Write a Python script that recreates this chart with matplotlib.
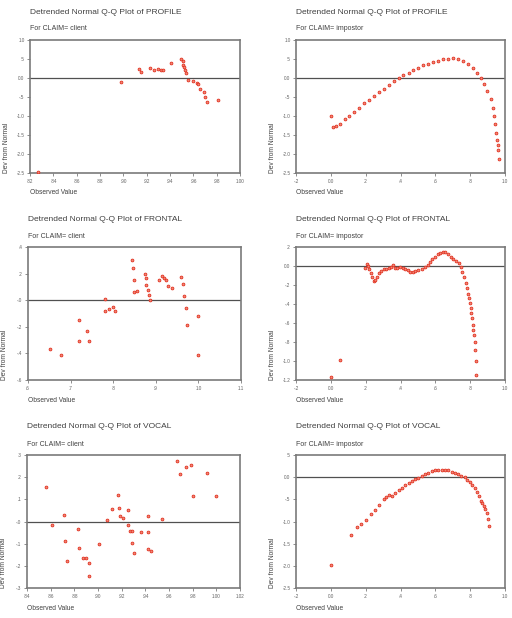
import matplotlib
matplotlib.use("Agg")
import matplotlib.pyplot as plt

profile_client_x = [0.827, 0.898, 0.913, 0.915, 0.923, 0.926, 0.930, 0.932, 0.934, 0.941,
                    0.949, 0.951, 0.951, 0.952, 0.953, 0.954, 0.955, 0.960, 0.963, 0.964,
                    0.966, 0.969, 0.970, 0.972, 0.981]
profile_client_y = [-2.47, -0.10, 0.24, 0.16, 0.27, 0.21, 0.23, 0.22, 0.21, 0.39,
                    0.51, 0.44, 0.34, 0.29, 0.22, 0.14, -0.04, -0.09, -0.14, -0.17,
                    -0.29, -0.37, -0.51, -0.64, -0.58]

profile_impostor_x = [0.0, 0.013, 0.028, 0.053, 0.082, 0.104, 0.133, 0.161, 0.19, 0.218,
                      0.247, 0.275, 0.304, 0.332, 0.36, 0.389, 0.417, 0.446, 0.474, 0.503,
                      0.531, 0.56, 0.588, 0.617, 0.645, 0.674, 0.702, 0.73, 0.759, 0.787,
                      0.816, 0.84, 0.86, 0.879, 0.898, 0.917, 0.93, 0.939, 0.945, 0.951,
                      0.954, 0.958, 0.962, 0.967]
profile_impostor_y = [-1.0, -1.29, -1.27, -1.20, -1.07, -1.0, -0.89, -0.78, -0.67, -0.57,
                      -0.48, -0.375, -0.29, -0.18, -0.09, 0.0, 0.07, 0.14, 0.2, 0.27,
                      0.34, 0.38, 0.43, 0.46, 0.5, 0.5, 0.52, 0.5, 0.45, 0.375,
                      0.27, 0.13, 0.0, -0.15, -0.33, -0.55, -0.78, -1.0, -1.22, -1.45,
                      -1.63, -1.76, -1.89, -2.14]

frontal_client_x = [0.651, 0.677, 0.719, 0.738, 0.719, 0.743, 0.780, 0.781, 0.791, 0.799,
                    0.805, 0.845, 0.846, 0.848, 0.850, 0.855, 0.874, 0.877, 0.878, 0.881,
                    0.884, 0.886, 0.907, 0.915, 0.920, 0.925, 0.929, 0.939, 0.959, 0.963,
                    0.966, 0.971, 0.973, 0.998, 1.000]
frontal_client_y = [-0.37, -0.41, -0.15, -0.23, -0.31, -0.31, 0.01, -0.08, -0.065, -0.05,
                    -0.08, 0.305, 0.24, 0.15, 0.065, 0.07, 0.20, 0.17, 0.115, 0.08,
                    0.04, 0.005, 0.155, 0.18, 0.17, 0.155, 0.105, 0.09, 0.175, 0.12,
                    0.035, -0.06, -0.19, -0.12, -0.415]

frontal_impostor_x = [0.0, 0.051, 0.195, 0.209, 0.214, 0.222, 0.23, 0.237, 0.249, 0.256,
                      0.266, 0.275, 0.29, 0.304, 0.317, 0.332, 0.345, 0.355, 0.366, 0.38,
                      0.398, 0.412, 0.427, 0.442, 0.455, 0.469, 0.484, 0.503, 0.522, 0.541,
                      0.556, 0.569, 0.583, 0.598, 0.613, 0.628, 0.643, 0.658, 0.674, 0.689,
                      0.704, 0.721, 0.734, 0.746, 0.755, 0.765, 0.774, 0.782, 0.787, 0.793,
                      0.799, 0.803, 0.806, 0.81, 0.814, 0.818, 0.822, 0.825, 0.827, 0.831,
                      0.835]
frontal_impostor_y = [-1.17, -0.99, -0.025, 0.018, 0.0, -0.03, -0.077, -0.12, -0.158, -0.147,
                      -0.112, -0.077, -0.053, -0.035, -0.032, -0.025, -0.007, 0.01, -0.025, -0.025,
                      -0.014, -0.025, -0.032, -0.046, -0.06, -0.067, -0.053, -0.042, -0.032, -0.01,
                      0.01, 0.039, 0.074, 0.098, 0.123, 0.137, 0.147, 0.144, 0.123, 0.095,
                      0.074, 0.056, 0.028, -0.007, -0.06, -0.112, -0.18, -0.235, -0.29, -0.34,
                      -0.39, -0.446, -0.498, -0.55, -0.62, -0.67, -0.73, -0.80, -0.88, -0.996,
                      -1.147]

vocal_client_x = [0.856, 0.861, 0.871, 0.872, 0.874, 0.883, 0.884, 0.887, 0.890, 0.892,
                  0.892, 0.901, 0.908, 0.912, 0.917, 0.918, 0.919, 0.921, 0.925, 0.925,
                  0.927, 0.929, 0.929, 0.930, 0.936, 0.942, 0.942, 0.942, 0.945, 0.954,
                  0.967, 0.969, 0.974, 0.979, 0.980, 0.992, 1.000]
vocal_client_y = [0.156, -0.017, 0.030, -0.089, -0.179, -0.035, -0.120, -0.165, -0.164, -0.185,
                  -0.248, -0.102, 0.005, 0.057, 0.120, 0.060, 0.026, 0.018, 0.050, -0.014,
                  -0.042, -0.044, -0.099, -0.143, -0.048, 0.026, -0.048, -0.123, -0.131, 0.011,
                  0.271, 0.215, 0.245, 0.257, 0.117, 0.218, 0.117]

vocal_impostor_x = [0.0, 0.114, 0.152, 0.175, 0.2, 0.228, 0.252, 0.275, 0.304, 0.317,
                    0.332, 0.351, 0.37, 0.389, 0.408, 0.427, 0.446, 0.465, 0.484, 0.503,
                    0.522, 0.541, 0.56, 0.579, 0.598, 0.617, 0.636, 0.655, 0.674, 0.693,
                    0.712, 0.73, 0.75, 0.768, 0.784, 0.797, 0.812, 0.825, 0.839, 0.85,
                    0.86, 0.869, 0.879, 0.886, 0.894, 0.901, 0.911]
vocal_impostor_y = [-1.99, -1.30, -1.12, -1.06, -0.96, -0.84, -0.74, -0.63, -0.5, -0.44,
                    -0.41, -0.425, -0.35, -0.28, -0.24, -0.18, -0.127, -0.09, -0.05, -0.03,
                    0.02, 0.067, 0.097, 0.134, 0.157, 0.17, 0.17, 0.164, 0.157, 0.127,
                    0.097, 0.067, 0.037, -0.007, -0.067, -0.11, -0.18, -0.25, -0.336, -0.425,
                    -0.54, -0.59, -0.65, -0.72, -0.8, -0.95, -1.1]

# === Axis ticks and their labels (SPSS style, no leading zero) ===
x_ticks_profile_client = [0.82, 0.84, 0.86, 0.88, 0.90, 0.92, 0.94, 0.96, 0.98, 1.00]
x_labels_profile_client = [".82", ".84", ".86", ".88", ".90", ".92", ".94", ".96", ".98", "1.00"]
x_ticks_unit = [-0.2, 0.0, 0.2, 0.4, 0.6, 0.8, 1.0]
x_labels_unit = ["-.2", "0.0", ".2", ".4", ".6", ".8", "1.0"]
x_ticks_frontal_client = [0.6, 0.7, 0.8, 0.9, 1.0, 1.1]
x_labels_frontal_client = [".6", ".7", ".8", ".9", "1.0", "1.1"]
x_ticks_vocal_client = [0.84, 0.86, 0.88, 0.90, 0.92, 0.94, 0.96, 0.98, 1.00, 1.02]
x_labels_vocal_client = [".84", ".86", ".88", ".90", ".92", ".94", ".96", ".98", "1.00", "1.02"]

y_ticks_profile = [-2.5, -2.0, -1.5, -1.0, -0.5, 0.0, 0.5, 1.0]
y_labels_profile = ["-2.5", "-2.0", "-1.5", "-1.0", "-.5", "0.0", ".5", "1.0"]
y_ticks_frontal_client = [-0.6, -0.4, -0.2, 0.0, 0.2, 0.4]
y_labels_frontal_client = ["-.6", "-.4", "-.2", "-.0", ".2", ".4"]
y_ticks_frontal_impostor = [-1.2, -1.0, -0.8, -0.6, -0.4, -0.2, 0.0, 0.2]
y_labels_frontal_impostor = ["-1.2", "-1.0", "-.8", "-.6", "-.4", "-.2", "0.0", ".2"]
y_ticks_vocal_client = [-0.3, -0.2, -0.1, 0.0, 0.1, 0.2, 0.3]
y_labels_vocal_client = ["-.3", "-.2", "-.1", "-.0", ".1", ".2", ".3"]
y_ticks_vocal_impostor = [-2.5, -2.0, -1.5, -1.0, -0.5, 0.0, 0.5]
y_labels_vocal_impostor = ["-2.5", "-2.0", "-1.5", "-1.0", "-.5", "0.0", ".5"]

W, H = 512, 618
TEXT = "#404040"
plt.rcParams["font.family"] = ["Liberation Sans", "DejaVu Sans"]

fig = plt.figure(figsize=(W / 100, H / 100), dpi=100)
fig.patch.set_facecolor("white")


def px_axes(left, top, right, bottom):
    # Axes placed with pixel coordinates (origin at top left)
    return fig.add_axes([left / W, 1 - bottom / H, (right - left) / W, (bottom - top) / H])


def panel(box, var, claim, xs, ys, xticks, xlabels, yticks, ylabels):
    left, top, right, bottom = box
    ax = px_axes(*box)
    ax.set_xlim(xticks[0], xticks[-1])
    ax.set_ylim(yticks[0], yticks[-1])
    ax.axhline(0, color="#505050", lw=0.9, zorder=1)
    ax.plot(xs, ys, ls="none", marker="o", ms=2.0, mfc="#f08878", mec="#e2301f",
            mew=0.6, zorder=3)
    ax.set_xticks(xticks)
    ax.set_xticklabels(xlabels)
    ax.set_yticks(yticks)
    ax.set_yticklabels(ylabels)
    ax.tick_params(labelsize=3.3, colors="#606060", length=2, width=0.5, pad=2)
    for sp in ax.spines.values():
        sp.set_color("#7a7a7a")
        sp.set_linewidth(1.2)
    # Titles and labels, in figure pixels
    fig.text(left / W, 1 - (top - 28) / H, "Detrended Normal Q-Q Plot of " + var,
             fontsize=6, color=TEXT, ha="left", va="center")
    fig.text(left / W, 1 - (top - 11) / H, "For CLAIM= " + claim,
             fontsize=5, color=TEXT, ha="left", va="center")
    fig.text(left / W, 1 - (bottom + 20) / H, "Observed Value",
             fontsize=4.8, color=TEXT, ha="left", va="center")
    fig.text((left - 23) / W, 1 - bottom / H, "Dev from Normal", rotation=90,
             fontsize=4.8, color=TEXT, ha="center", va="bottom")
    return ax


panel((30, 40, 240, 173), "PROFILE", "client", profile_client_x, profile_client_y,
      x_ticks_profile_client, x_labels_profile_client, y_ticks_profile, y_labels_profile)
panel((296, 40, 505, 173), "PROFILE", "impostor", profile_impostor_x, profile_impostor_y,
      x_ticks_unit, x_labels_unit, y_ticks_profile, y_labels_profile)
panel((28, 247, 241, 380), "FRONTAL", "client", frontal_client_x, frontal_client_y,
      x_ticks_frontal_client, x_labels_frontal_client, y_ticks_frontal_client, y_labels_frontal_client)
panel((296, 247, 505, 380), "FRONTAL", "impostor", frontal_impostor_x, frontal_impostor_y,
      x_ticks_unit, x_labels_unit, y_ticks_frontal_impostor, y_labels_frontal_impostor)
panel((27, 455, 240, 588), "VOCAL", "client", vocal_client_x, vocal_client_y,
      x_ticks_vocal_client, x_labels_vocal_client, y_ticks_vocal_client, y_labels_vocal_client)
panel((296, 455, 505, 588), "VOCAL", "impostor", vocal_impostor_x, vocal_impostor_y,
      x_ticks_unit, x_labels_unit, y_ticks_vocal_impostor, y_labels_vocal_impostor)

fig.savefig("out.png", dpi=100, facecolor="white")
